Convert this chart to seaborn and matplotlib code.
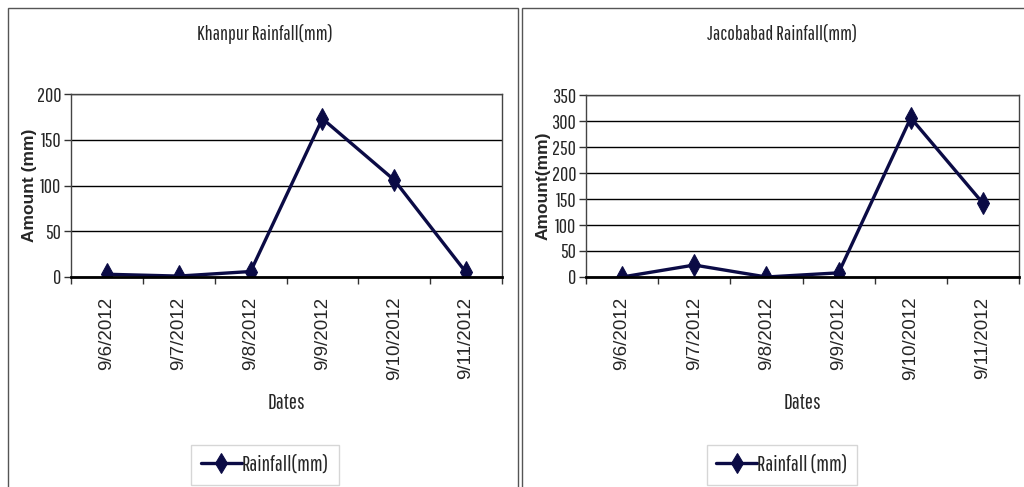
import matplotlib
matplotlib.use("Agg")
import matplotlib.pyplot as plt
import seaborn as sns
import pandas as pd
from matplotlib.patches import Rectangle

sns.set_theme(style="white")
NARROW = ["Pathway Gothic One", "Pragati Narrow", "Liberation Sans", "DejaVu Sans"]
WIDE = ["Liberation Sans", "DejaVu Sans"]
plt.rcParams["font.family"] = WIDE

dates = ["9/6/2012", "9/7/2012", "9/8/2012", "9/9/2012", "9/10/2012", "9/11/2012"]
khanpur_mm = [3, 1, 6, 173, 106, 5]
jacobabad_mm = [0, 23, 0, 8, 306, 142]

LINE = "#0b0b45"

fig = plt.figure(figsize=(10.24, 4.87), dpi=100)
fig.patch.set_facecolor("white")

# panel frames
fig.patches.append(Rectangle((8 / 1024, -0.01), 510 / 1024, 1 - 8 / 487 + 0.01,
                             transform=fig.transFigure, fill=False,
                             edgecolor="#555555", lw=1.0))
fig.patches.append(Rectangle((522 / 1024, -0.01), 510 / 1024, 1 - 8 / 487 + 0.01,
                             transform=fig.transFigure, fill=False,
                             edgecolor="#555555", lw=1.0))

panels = [
    dict(vals=khanpur_mm, title="Khanpur Rainfall(mm)", ylabel="Amount (mm)",
         legend="Rainfall(mm)", ymax=200, step=50, ylab_x=-0.079,
         rect=[71 / 1024, 1 - 277 / 487, 431 / 1024, 183 / 487], cx=265 / 1024),
    dict(vals=jacobabad_mm, title="Jacobabad Rainfall(mm)", ylabel="Amount(mm)",
         legend="Rainfall (mm)", ymax=350, step=50, ylab_x=-0.081,
         rect=[586 / 1024, 1 - 277 / 487, 433 / 1024, 182 / 487], cx=782 / 1024),
]

for p in panels:
    ax = fig.add_axes(p["rect"])
    df = pd.DataFrame({"Dates": dates, "Amount": p["vals"]})
    sns.lineplot(data=df, x="Dates", y="Amount", ax=ax, color=LINE, lw=2.4,
                 marker="d", markersize=11, markeredgecolor=LINE,
                 markerfacecolor=LINE, label=p["legend"], sort=False)
    ax.set_xlim(-0.5, len(dates) - 0.5)
    ax.set_ylim(0, p["ymax"])
    yt = list(range(0, p["ymax"] + 1, p["step"]))
    ax.set_yticks(yt)
    ax.set_yticklabels([str(v) for v in yt])
    ax.yaxis.grid(True, color="black", lw=1.0)
    ax.set_axisbelow(True)
    ax.set_xticks(range(len(dates)))
    ax.set_xticklabels(dates, rotation=90)
    ax.tick_params(axis="x", length=0, pad=14, labelsize=13.5)
    ax.set_xticks([i - 0.5 for i in range(len(dates) + 1)], minor=True)
    ax.tick_params(axis="x", which="minor", direction="out", length=5,
                   width=1, color="#333333", bottom=True)
    ax.tick_params(axis="y", direction="out", length=5, width=1,
                   color="#333333", left=True, pad=2, labelsize=14.5)
    for lab in ax.get_yticklabels():
        lab.set_fontfamily(NARROW)
    for lab in ax.get_xticklabels():
        lab.set_fontfamily(WIDE)
    for side in ["top", "right", "left"]:
        ax.spines[side].set_color("#444444")
        ax.spines[side].set_linewidth(1.0)
    ax.spines["bottom"].set_color("black")
    ax.spines["bottom"].set_linewidth(2.0)
    ax.set_xlabel("Dates", fontfamily=NARROW, fontsize=15.5, labelpad=9)
    ax.set_ylabel(p["ylabel"], fontfamily=WIDE, fontsize=12.5,
                  fontweight="bold")
    ax.yaxis.set_label_coords(p["ylab_x"], 0.5)
    fig.text(p["cx"], 1 - 34 / 487, p["title"], ha="center", va="center",
             fontfamily=NARROW, fontsize=14.5)
    leg = ax.legend(loc="center", bbox_to_anchor=(p["cx"], 1 - 465 / 487),
                    bbox_transform=fig.transFigure, frameon=True, fancybox=False,
                    prop={"family": NARROW, "size": 15.5}, handlelength=1.9,
                    handletextpad=0.0, borderpad=0.45, markerscale=0.9)
    leg.get_frame().set_edgecolor("#cccccc")
    leg.get_frame().set_linewidth(1.0)

fig.savefig("out.png", dpi=100, facecolor="white")
